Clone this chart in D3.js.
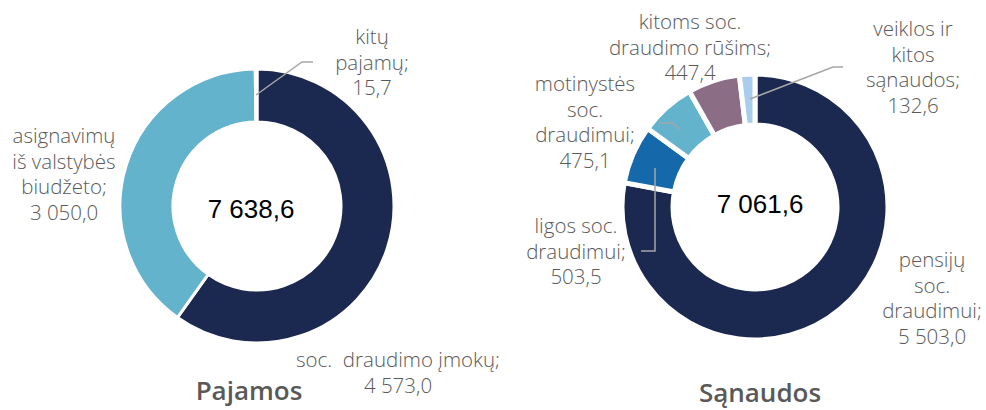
<!DOCTYPE html>
<html lang="lt">
<head>
  <meta charset="UTF-8">
  <title>Pajamos ir sąnaudos</title>
  <script src="https://d3js.org/d3.v7.min.js"></script>
  <style>
    body { margin: 0; background: #fff; }
    .lbl {
      font-family: "Open Sans", "Noto Sans", sans-serif;
      font-weight: 300;
      font-size: 20.5px;
      fill: #595959;
      text-anchor: middle;
    }
    .total {
      font-family: "Liberation Sans", Arial, sans-serif;
      font-size: 26px;
      fill: #000;
      text-anchor: middle;
    }
    .title {
      font-family: "Open Sans", "Noto Sans", sans-serif;
      font-weight: 600;
      font-size: 26px;
      fill: #595959;
      text-anchor: middle;
    }
    .leader { fill: none; stroke: #a6a6a6; stroke-width: 1.5; }
  </style>
</head>
<body>
  <div id="app"></div>
  <script>
    // Pajamos
    var incNames = ["soc.  draudimo įmokų;", "asignavimų iš valstybės biudžeto;", "kitų pajamų;"];
    var incValues = [4573.0, 3050.0, 15.7];
    var incColors = ["#1b2850", "#63b3cd", "#ffffff"];
    var incTotal = "7 638,6";

    // Sąnaudos
    var expNames = ["pensijų soc. draudimui;", "ligos soc. draudimui;", "motinystės soc. draudimui;", "kitoms soc. draudimo rūšims;", "veiklos ir kitos sąnaudos;"];
    var expValues = [5503.0, 503.5, 475.1, 447.4, 132.6];
    var expColors = ["#1b2850", "#1569aa", "#63b3cd", "#8b6d86", "#a9cdec"];
    var expTotal = "7 061,6";

    var fmt = function (v) {
      var s = v.toFixed(1).replace(".", ",");
      var parts = s.split(",");
      var ip = parts[0].replace(/\B(?=(\d{3})+(?!\d))/g, " ");
      return ip + "," + parts[1];
    };

    var width = 986, height = 410;
    var svg = d3.select("#app").append("svg")
      .attr("width", width)
      .attr("height", height);

    function donut(cfg) {
      var g = svg.append("g")
        .attr("transform", "translate(" + cfg.cx + "," + cfg.cy + ")");
      var pie = d3.pie().sort(null).value(function (d) { return d; });
      var arc = d3.arc().innerRadius(cfg.r0).outerRadius(cfg.r1);
      g.selectAll("path")
        .data(pie(cfg.values))
        .enter().append("path")
        .attr("d", arc)
        .attr("fill", function (d, i) { return cfg.colors[i]; })
        .attr("stroke", "#fff")
        .attr("stroke-width", cfg.gap);

      svg.append("text")
        .attr("class", "total")
        .attr("x", cfg.totalPos[0])
        .attr("y", cfg.totalPos[1])
        .text(cfg.total);

      svg.append("text")
        .attr("class", "title")
        .attr("x", cfg.titlePos[0])
        .attr("y", cfg.titlePos[1])
        .text(cfg.title);

      // etiketės
      cfg.labels.forEach(function (l, i) {
        var lines = l.lines.concat([fmt(cfg.values[i])]);
        var t = svg.append("text")
          .attr("class", "lbl")
          .attr("x", l.x)
          .attr("y", l.y);
        lines.forEach(function (s, k) {
          t.append("tspan")
            .attr("x", l.x)
            .attr("dy", k === 0 ? 0 : 25.5)
            .style("white-space", "pre")
            .text(s);
        });
        if (l.leader) {
          svg.append("polyline")
            .attr("class", "leader")
            .attr("points", l.leader.map(function (p) { return p.join(","); }).join(" "));
        }
      });
    }

    donut({
      cx: 257, cy: 206, r0: 84, r1: 137, gap: 3,
      values: incValues, colors: incColors,
      total: incTotal, totalPos: [251, 218],
      title: "Pajamos", titlePos: [249, 400],
      labels: [
        { lines: ["soc.  draudimo įmokų;"], x: 398, y: 367 },
        { lines: ["asignavimų", "iš valstybės", "biudžeto;"], x: 64, y: 143 },
        { lines: ["kitų", "pajamų;"], x: 372, y: 44,
          leader: [[256, 95], [302, 62], [313, 62]] }
      ]
    });

    donut({
      cx: 755, cy: 207, r0: 82, r1: 133, gap: 5,
      values: expValues, colors: expColors,
      total: expTotal, totalPos: [760, 213],
      title: "Sąnaudos", titlePos: [760, 402],
      labels: [
        { lines: ["pensijų", "soc.", "draudimui;"], x: 932, y: 267 },
        { lines: ["ligos soc.", "draudimui;"], x: 576, y: 233,
          leader: [[655, 168], [655, 251], [641, 251]] },
        { lines: ["motinystės", "soc.", "draudimui;"], x: 585, y: 91,
          leader: [[659, 123], [672, 123], [680, 129]] },
        { lines: ["kitoms soc.", "draudimo rūšims;"], x: 690, y: 29 },
        { lines: ["veiklos ir", "kitos", "sąnaudos;"], x: 913, y: 36,
          leader: [[750, 99], [833, 67], [843, 67]] }
      ]
    });
  </script>
</body>
</html>
